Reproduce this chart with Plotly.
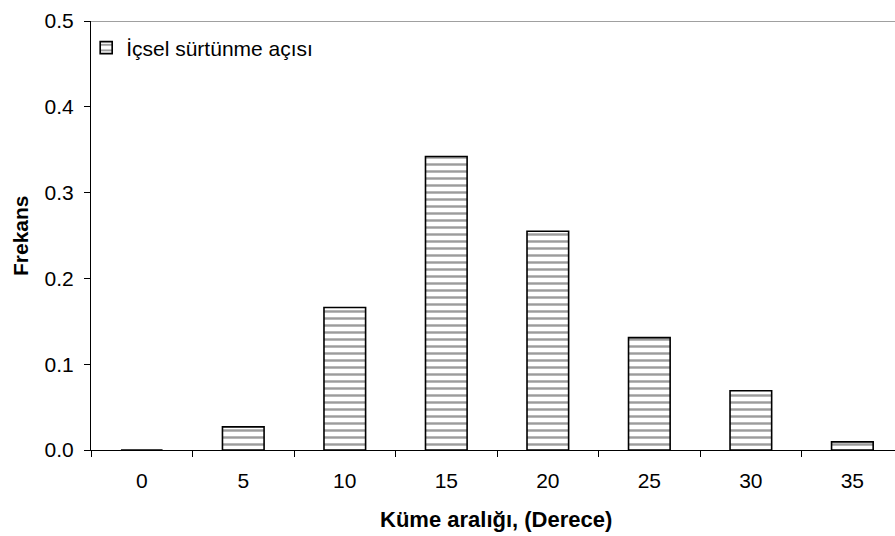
import plotly.graph_objects as go

# Class intervals (degrees) and relative frequency of internal friction angle
categories = ["0", "5", "10", "15", "20", "25", "30", "35"]
frequency = [0.0, 0.027, 0.166, 0.342, 0.255, 0.131, 0.069, 0.0095]
y_ticks = [0.0, 0.1, 0.2, 0.3, 0.4, 0.5]
series_name = "İçsel sürtünme açısı"

FONT = "Liberation Sans, Arial, sans-serif"

fig = go.Figure()
fig.add_trace(go.Bar(
    x=categories,
    y=frequency,
    name=series_name,
    width=0.41,
    marker=dict(
        color="white",
        line=dict(color="black", width=1.6),
        pattern=dict(shape="-", size=7, solidity=0.35, fgcolor="#3a3a3a", bgcolor="white"),
    ),
    showlegend=True,
))

fig.update_layout(
    width=895,
    height=536,
    margin=dict(l=91, r=0, t=21, b=86),
    paper_bgcolor="white",
    plot_bgcolor="white",
    font=dict(family=FONT, color="black"),
    showlegend=True,
    legend=dict(
        x=-0.006, y=0.985, xanchor="left", yanchor="top",
        bgcolor="rgba(0,0,0,0)", borderwidth=0,
        font=dict(size=21, family=FONT),
        itemwidth=30,
    ),
    xaxis=dict(
        type="category",
        range=[-0.5, 7.42],
        showline=True, linecolor="black", linewidth=1,
        ticks="outside", ticklen=6, tickcolor="black", tickwidth=1,
        tickson="boundaries",
        ticklabelstandoff=12,
        showgrid=False, zeroline=False,
        tickfont=dict(size=21, family=FONT),
    ),
    yaxis=dict(
        range=[0, 0.5],
        tickvals=y_ticks,
        tickformat=".1f",
        showline=True, linecolor="black", linewidth=1,
        ticks="outside", ticklen=6, tickcolor="black", tickwidth=1,
        ticklabelstandoff=6,
        showgrid=False, zeroline=False,
        tickfont=dict(size=21, family=FONT),
    ),
    shapes=[
        dict(type="line", xref="paper", x0=0, x1=1, yref="y", y0=0.5, y1=0.5,
             line=dict(color="#808080", width=1.5), layer="below"),
    ],
    annotations=[
        dict(text="<b>Küme aralığı, (Derece)</b>", xref="paper", yref="paper",
             x=(496 - 91) / 804, y=-(519 - 450) / 429, xanchor="center", yanchor="middle",
             showarrow=False, font=dict(size=22, family=FONT)),
        dict(text="<b>Frekans</b>", xref="paper", yref="paper",
             x=-(91 - 20.5) / 804, y=0.5, xanchor="center", yanchor="middle",
             textangle=-90, showarrow=False, font=dict(size=21, family=FONT)),
    ],
)

fig.write_html("out.html")
